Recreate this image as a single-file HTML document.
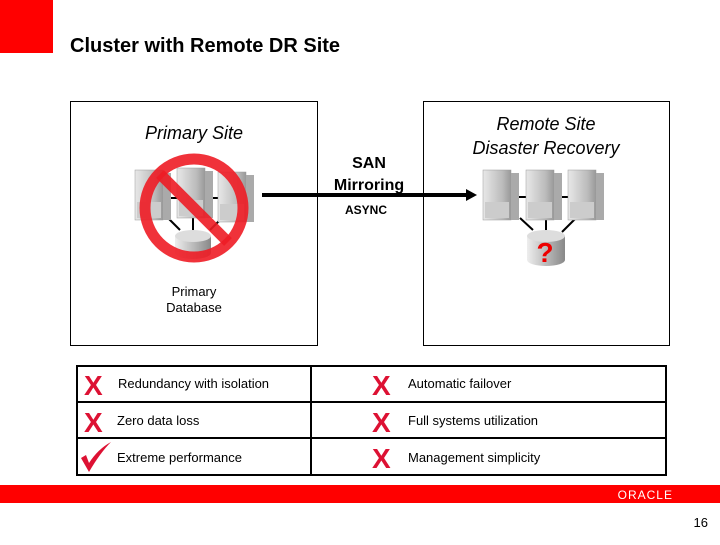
<!DOCTYPE html>
<html><head><meta charset="utf-8"><style>
body{margin:0;width:720px;height:540px;background:#fff;overflow:hidden;font-family:"Liberation Sans",sans-serif}
</style></head><body>
<svg width="720" height="540" viewBox="0 0 720 540" xmlns="http://www.w3.org/2000/svg" font-family="Liberation Sans, sans-serif">
<defs>
<linearGradient id="srv" x1="0" x2="1"><stop offset="0" stop-color="#e8e8e8"/><stop offset="0.7" stop-color="#bbb"/><stop offset="1" stop-color="#999"/></linearGradient>
<linearGradient id="cyl" x1="0" x2="1"><stop offset="0" stop-color="#eee"/><stop offset="0.5" stop-color="#bbb"/><stop offset="1" stop-color="#888"/></linearGradient>
<g id="server"><rect x="0" y="0" width="28" height="50" fill="url(#srv)" stroke="#999" stroke-width="0.5"/><rect x="28" y="3" width="8" height="47" fill="#aaa"/><rect x="2" y="32" width="24" height="16" fill="#ccc"/></g>
</defs>
<rect x="0" y="0" width="53" height="53" fill="#ff0000"/>
<text x="70" y="52" font-size="20" font-weight="bold" fill="#000">Cluster with Remote DR Site</text>
<rect x="70.5" y="101.5" width="247" height="244" fill="none" stroke="#000"/>
<rect x="423.5" y="101.5" width="246" height="244" fill="none" stroke="#000"/>
<text x="194" y="139" font-size="18" font-style="italic" text-anchor="middle">Primary Site</text>
<text x="546" y="130" font-size="18" font-style="italic" text-anchor="middle">Remote Site</text>
<text x="546" y="154" font-size="18" font-style="italic" text-anchor="middle">Disaster Recovery</text>
<text x="369" y="168" font-size="16" font-weight="bold" text-anchor="middle">SAN</text>
<text x="369" y="190" font-size="16" font-weight="bold" text-anchor="middle">Mirroring</text>
<text x="366" y="214" font-size="12" font-weight="bold" text-anchor="middle">ASYNC</text>
<g stroke="#000" stroke-width="2"><line x1="160" y1="198" x2="240" y2="198"/><line x1="165" y1="215" x2="180" y2="230"/><line x1="193" y1="215" x2="193" y2="232"/><line x1="225" y1="215" x2="210" y2="230"/></g>
<use href="#server" x="135" y="170"/><use href="#server" x="177" y="168"/><use href="#server" x="218" y="172"/>
<path d="M175 236 v17 a18 6 0 0 0 36 0 v-17z" fill="url(#cyl)"/><ellipse cx="193" cy="236" rx="18" ry="6" fill="#ddd"/>
<circle cx="194" cy="208" r="49" fill="none" stroke="#ee1c25" stroke-width="11" opacity="0.9"/>
<line x1="160" y1="174" x2="228" y2="242" stroke="#ee1c25" stroke-width="11" opacity="0.9"/>
<text x="194" y="296" font-size="13" text-anchor="middle">Primary</text>
<text x="194" y="312" font-size="13" text-anchor="middle">Database</text>
<line x1="262" y1="195" x2="468" y2="195" stroke="#000" stroke-width="4"/>
<polygon points="466,189 477,195 466,201" fill="#000"/>
<g stroke="#000" stroke-width="2"><line x1="500" y1="197" x2="590" y2="197"/><line x1="520" y1="218" x2="533" y2="230"/><line x1="546" y1="218" x2="546" y2="232"/><line x1="577" y1="217" x2="562" y2="232"/></g>
<use href="#server" x="483" y="170"/><use href="#server" x="526" y="170"/><use href="#server" x="568" y="170"/>
<path d="M527 236 v24 a19 6 0 0 0 38 0 v-24z" fill="url(#cyl)"/><ellipse cx="546" cy="236" rx="19" ry="6" fill="#ddd"/>
<text x="545" y="262" font-size="28" font-weight="bold" fill="#ee0000" text-anchor="middle">?</text>
<rect x="77" y="366" width="589" height="109" fill="none" stroke="#000" stroke-width="2"/>
<line x1="77" y1="402" x2="666" y2="402" stroke="#000" stroke-width="2"/>
<line x1="77" y1="438" x2="666" y2="438" stroke="#000" stroke-width="2"/>
<line x1="311" y1="366" x2="311" y2="475" stroke="#000" stroke-width="2"/>
<g font-size="28" font-weight="bold" fill="#dd1133">
<text x="84" y="395">X</text><text x="84" y="432">X</text>
<text x="372" y="395">X</text><text x="372" y="432">X</text><text x="372" y="468">X</text>
</g>
<path d="M81 458 L86 455 L89 463 Q98 449 111 442 Q100 453 89 472 Z" fill="#dd1133"/>
<g font-size="13"><text x="118" y="388">Redundancy with isolation</text><text x="117" y="425">Zero data loss</text><text x="117" y="462">Extreme performance</text>
<text x="408" y="388">Automatic failover</text><text x="408" y="425">Full systems utilization</text><text x="408" y="462">Management simplicity</text></g>
<rect x="0" y="485" width="720" height="18" fill="#ff0000"/>
<text x="673" y="499" font-size="12" fill="#fff" text-anchor="end" letter-spacing="1">ORACLE</text>
<text x="708" y="527" font-size="13" text-anchor="end">16</text>
</svg>
</body></html>
